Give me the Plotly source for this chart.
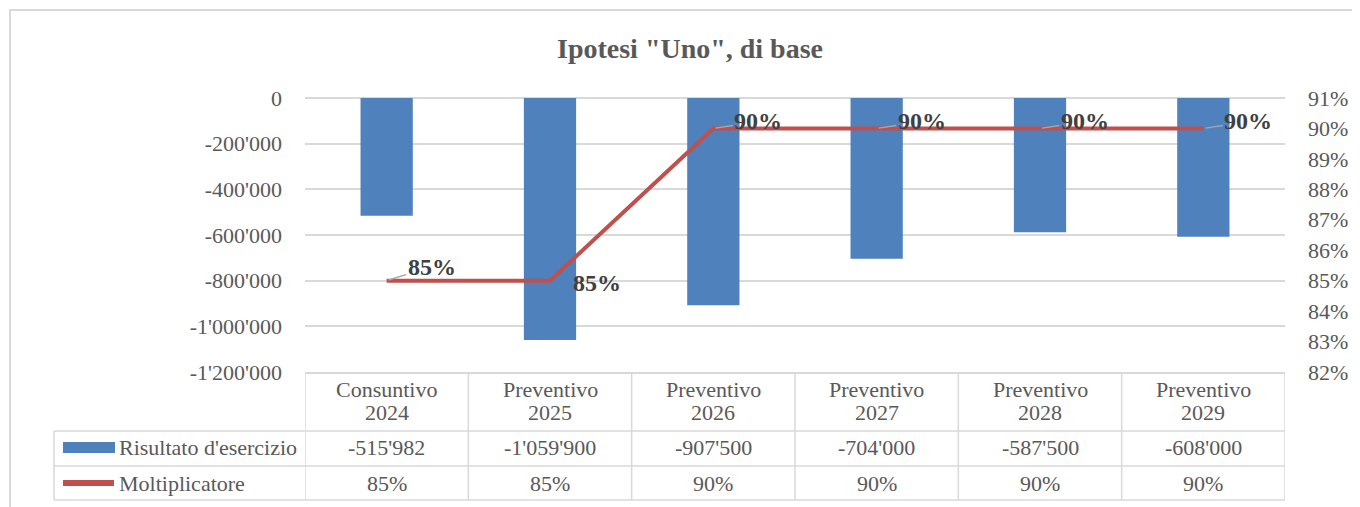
import plotly.graph_objects as go

# data
kinds = ["Consuntivo", "Preventivo", "Preventivo", "Preventivo", "Preventivo", "Preventivo"]
years = ["2024", "2025", "2026", "2027", "2028", "2029"]
risultato = [-515982, -1059900, -907500, -704000, -587500, -608000]
moltiplicatore = [0.85, 0.85, 0.90, 0.90, 0.90, 0.90]

y_ticks = [0, -200000, -400000, -600000, -800000, -1000000, -1200000]
y_ticktext = ["0", "-200'000", "-400'000", "-600'000", "-800'000", "-1'000'000", "-1'200'000"]

cats = [f"{k} {y}" for k, y in zip(kinds, years)]

FONT = "'Liberation Serif', 'DejaVu Serif', serif"
GRAY = "#595959"
GRID = "#d9d9d9"
BLUE = "#4f81bd"
RED = "#c0504d"

W, H = 1360, 507
OFF = 8  # page body margin
# plot area in screen pixels: x 305..1285, y 98..372
L, R, T, B = 305, 1285, 98, 372
def px(x):
    return (x - L) / (R - L)
def py(y):
    return (B - y) / (B - T)

fig = go.Figure()

fig.add_trace(go.Bar(
    x=cats, y=risultato, name="Risultato d'esercizio",
    marker=dict(color=BLUE, line=dict(width=0)),
))

fig.add_trace(go.Scatter(
    x=cats, y=moltiplicatore, name="Moltiplicatore", yaxis="y2",
    mode="lines", line=dict(color=RED, width=4),
))

label_font = dict(family=FONT, size=24, color="#404040")
annotations = []
for i, (c, v) in enumerate(zip(cats, moltiplicatore)):
    txt = f"<b>{v:.0%}</b>"
    if i == 1:
        annotations.append(dict(
            x=c, y=v, xref="x", yref="y2", text=txt, showarrow=False,
            xanchor="left", xshift=21, yshift=-2, font=label_font,
        ))
    else:
        annotations.append(dict(
            x=c, y=v, xref="x", yref="y2", text=txt, showarrow=True,
            arrowhead=0, arrowwidth=1.5, arrowcolor="#a6a6a6",
            ax=45, ay=-14 if i == 0 else -7, standoff=2, font=label_font,
        ))

cell_font = dict(family=FONT, size=22, color=GRAY)
# data table: header row
for c, k, y in zip(cats, kinds, years):
    annotations.append(dict(
        x=c, y=py(389), xref="x", yref="paper", text=k, showarrow=False,
        font=cell_font, yanchor="middle",
    ))
    annotations.append(dict(
        x=c, y=py(412), xref="x", yref="paper", text=y, showarrow=False,
        font=cell_font, yanchor="middle",
    ))
for c, v in zip(cats, risultato):
    annotations.append(dict(
        x=c, y=py(448), xref="x", yref="paper", text=f"{v:,}".replace(",", "'"),
        showarrow=False, font=cell_font, yanchor="middle",
    ))
for c, v in zip(cats, moltiplicatore):
    annotations.append(dict(
        x=c, y=py(483), xref="x", yref="paper", text=f"{v:.0%}",
        showarrow=False, font=cell_font, yanchor="middle",
    ))
annotations.append(dict(
    x=px(117), y=py(448), xref="paper", yref="paper", text="Risultato d'esercizio",
    showarrow=False, xanchor="left", yanchor="middle", font=cell_font,
))
annotations.append(dict(
    x=px(117), y=py(483), xref="paper", yref="paper", text="Moltiplicatore",
    showarrow=False, xanchor="left", yanchor="middle", font=cell_font,
))

shapes = []
line_style = dict(color=GRID, width=1.5)
shapes.append(dict(type="rect", xref="paper", yref="paper",
                   x0=px(10), x1=px(1357), y0=py(520), y1=py(10),
                   line=dict(color=GRID, width=2), layer="below"))
for yy in (431, 466, 500):
    shapes.append(dict(type="line", xref="paper", yref="paper",
                       x0=px(54), x1=1, y0=py(yy), y1=py(yy), line=line_style))
for j in range(len(cats) + 1):
    shapes.append(dict(type="line", xref="x", yref="paper",
                       x0=j - 0.5, x1=j - 0.5, y0=0, y1=py(500), line=line_style))
shapes.append(dict(type="line", xref="paper", yref="paper",
                   x0=px(54), x1=px(54), y0=py(431), y1=py(500), line=line_style))
shapes.append(dict(type="rect", xref="paper", yref="paper",
                   x0=px(63), x1=px(115), y0=py(453), y1=py(442),
                   fillcolor=BLUE, line=dict(width=0)))
shapes.append(dict(type="line", xref="paper", yref="paper",
                   x0=px(63), x1=px(114), y0=py(483), y1=py(483),
                   line=dict(color=RED, width=6)))

fig.update_layout(
    width=W, height=H,
    margin=dict(l=L - OFF, r=W - (R - OFF), t=T - OFF, b=H - (B - OFF)),
    paper_bgcolor="white", plot_bgcolor="white",
    showlegend=False,
    bargap=0.68,
    title=dict(text="<b>Ipotesi \"Uno\", di base</b>", x=(690 - OFF) / W, xanchor="center",
               y=1 - (48 - OFF) / H, yanchor="middle",
               font=dict(family=FONT, size=28, color=GRAY)),
    font=dict(family=FONT, size=22, color=GRAY),
    xaxis=dict(type="category", range=[-0.5, len(cats) - 0.5], showticklabels=False,
               showgrid=False, showline=True, linecolor=GRID, linewidth=1.5,
               ticks=""),
    yaxis=dict(range=[-1200000, 0], tickvals=y_ticks, ticktext=y_ticktext,
               showgrid=True, gridcolor=GRID, gridwidth=1.5,
               zeroline=True, zerolinecolor=GRID, zerolinewidth=2,
               ticks="", ticklabelstandoff=22, tickfont=cell_font),
    yaxis2=dict(overlaying="y", side="right", range=[0.82, 0.91], dtick=0.01,
                tickformat=".0%", showgrid=False, zeroline=False, ticks="",
                ticklabelstandoff=22, tickfont=cell_font),
    annotations=annotations,
    shapes=shapes,
)

fig.write_html("out.html")
